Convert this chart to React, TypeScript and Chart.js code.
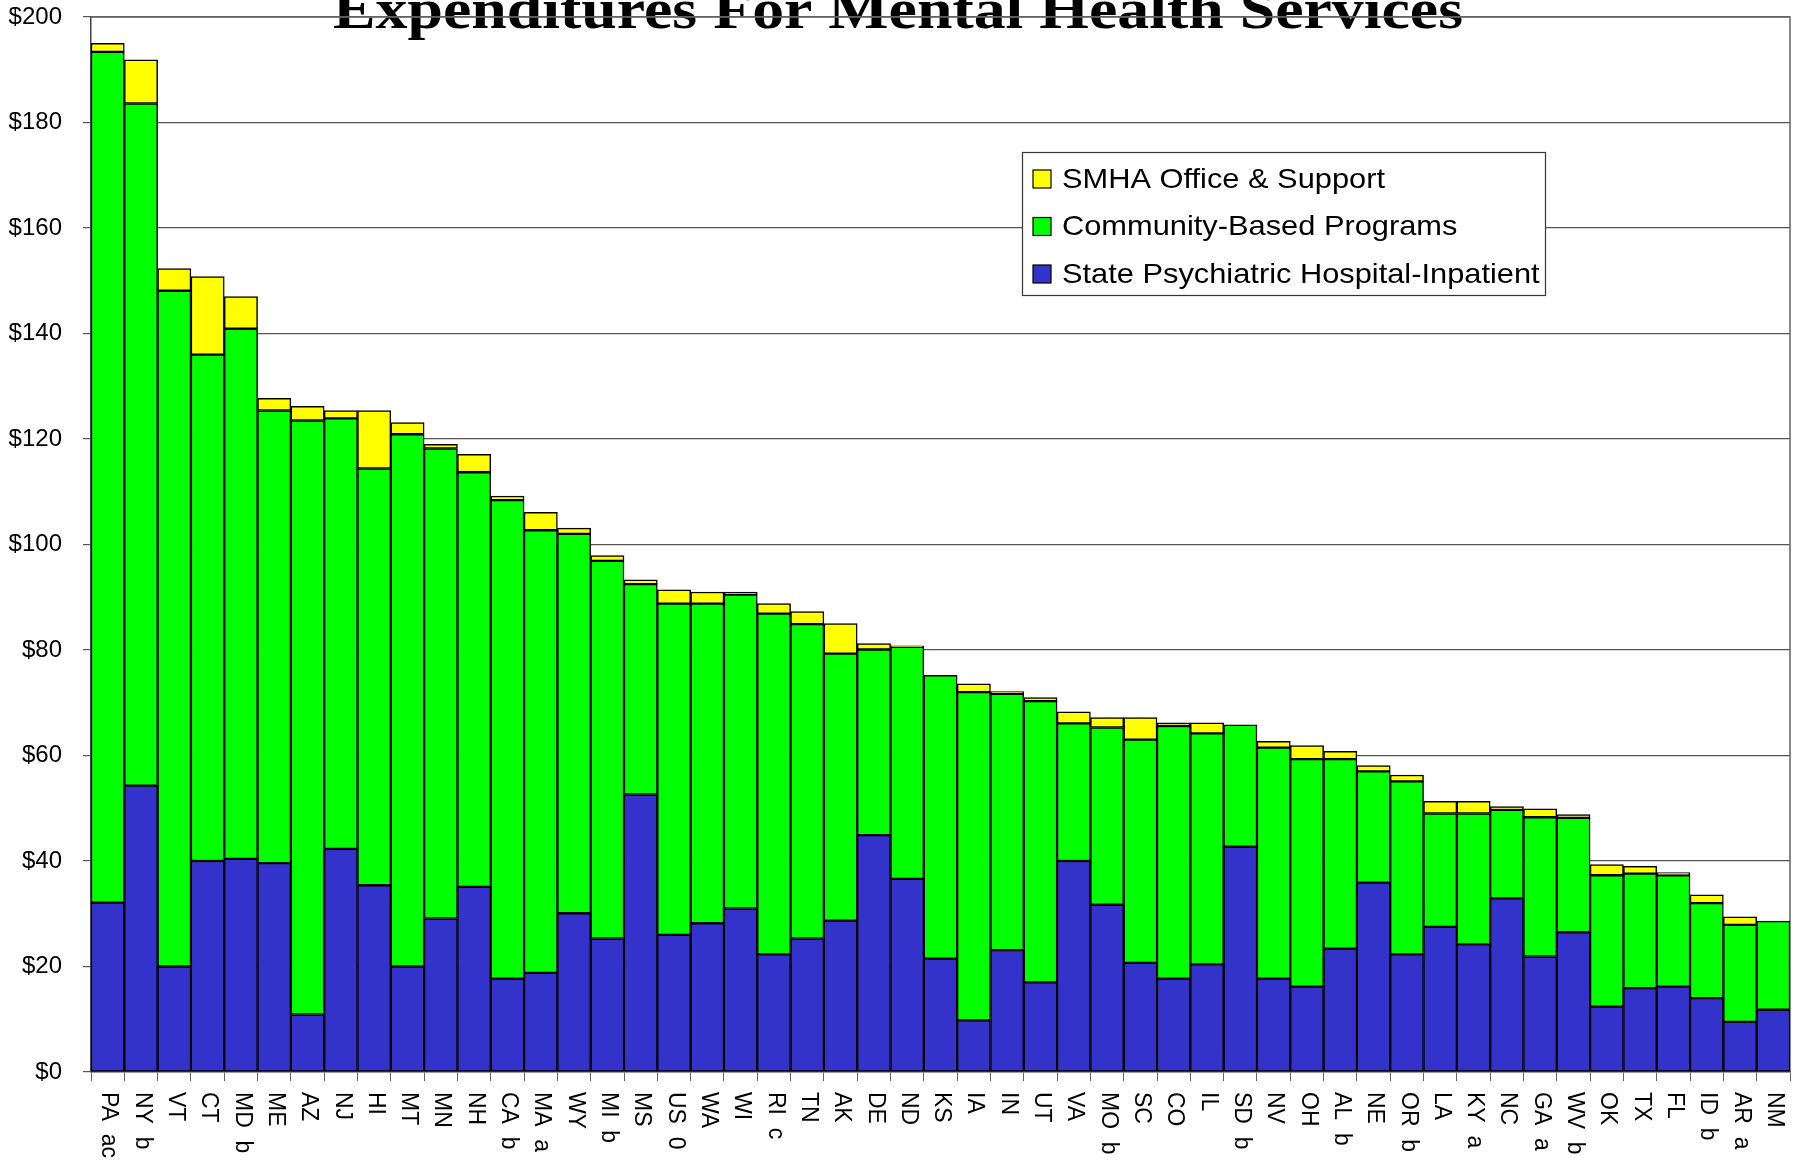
import React, { useEffect, useRef } from 'react';
import { Chart, registerables } from 'chart.js';

Chart.register(...registerables);

const titleText = 'Expenditures For Mental Health Services';

const categories = [
  'PA ac', 'NY b', 'VT', 'CT', 'MD b', 'ME', 'AZ', 'NJ', 'HI', 'MT', 'MN', 'NH', 'CA b', 'MA a', 'WY', 'MI b', 'MS',
  'US 0', 'WA', 'WI', 'RI c', 'TN', 'AK', 'DE', 'ND', 'KS', 'IA', 'IN', 'UT', 'VA', 'MO b', 'SC', 'CO', 'IL',
  'SD b', 'NV', 'OH', 'AL b', 'NE', 'OR b', 'LA', 'KY a', 'NC', 'GA a', 'WV b', 'OK', 'TX', 'FL', 'ID b', 'AR a', 'NM',
];

const statePsychiatricHospital = [
  32.1, 54.3, 20.0, 40.0, 40.4, 39.6, 10.9, 42.3, 35.4, 20.0, 29.1, 35.1, 17.7, 18.8, 30.1, 25.3, 52.6,
  26.0, 28.2, 31.0, 22.3, 25.3, 28.7, 44.9, 36.6, 21.5, 9.8, 23.1, 17.0, 40.0, 31.7, 20.7, 17.7, 20.4,
  42.7, 17.7, 16.2, 23.4, 35.9, 22.3, 27.5, 24.2, 32.9, 21.9, 26.5, 12.4, 15.9, 16.2, 14.0, 9.5, 11.8,
];

const communityBasedPrograms = [
  161.3, 129.3, 128.1, 96.0, 100.5, 85.8, 112.6, 81.6, 79.0, 100.9, 89.1, 78.6, 90.7, 83.9, 71.9, 71.6, 39.9,
  62.8, 60.6, 59.5, 64.6, 59.6, 50.6, 35.2, 44.0, 53.7, 62.2, 48.6, 53.3, 26.1, 33.6, 42.3, 47.9, 43.8,
  23.1, 43.8, 43.1, 35.9, 21.1, 32.8, 21.5, 24.8, 16.8, 26.4, 21.7, 24.9, 21.7, 21.1, 18.0, 18.4, 16.8,
];

const smhaOfficeSupport = [
  1.6, 8.3, 4.2, 14.8, 6.1, 2.3, 2.7, 1.5, 11.0, 2.2, 0.8, 3.4, 0.8, 3.4, 1.1, 1.0, 0.8,
  2.6, 2.2, 0.5, 1.9, 2.4, 5.7, 1.1, 0.2, 0.0, 1.6, 0.4, 0.7, 2.2, 1.9, 4.2, 0.6, 2.0,
  0.0, 1.2, 2.6, 1.5, 1.1, 1.2, 2.3, 2.3, 0.6, 1.6, 0.6, 2.0, 1.4, 0.5, 1.6, 1.5, 0.0,
];

const yAxisMin = 0;
const yAxisMax = 200;
const yAxisStep = 20;

const seriesNames = ['SMHA Office & Support', 'Community-Based Programs', 'State Psychiatric Hospital-Inpatient'];
const seriesColors = ['#FFFF00', '#00FF00', '#3333CC'];

const SANS = '"Liberation Sans", Arial, sans-serif';
const SERIF = '"Liberation Serif", "Times New Roman", serif';

const backgroundTitlePlugin = {
  id: 'backgroundTitle',
  beforeDraw(chart: any) {
    const ctx = chart.ctx;
    ctx.save();
    ctx.fillStyle = '#ffffff';
    ctx.fillRect(0, 0, chart.width, chart.height);
    ctx.fillStyle = '#000000';
    ctx.font = `bold 56px ${SERIF}`;
    ctx.textAlign = 'center';
    ctx.textBaseline = 'alphabetic';
    ctx.translate(898, 28);
    ctx.scale(1.14, 1);
    ctx.fillText(titleText, 0, 0);
    ctx.restore();
  },
};

const framePlugin = {
  id: 'frame',
  beforeDatasetsDraw(chart: any) {
    const { ctx, chartArea } = chart;
    ctx.save();
    ctx.strokeStyle = '#666666';
    ctx.lineWidth = 1.5;
    ctx.beginPath();
    ctx.moveTo(chartArea.left, chartArea.top);
    ctx.lineTo(chartArea.right, chartArea.top);
    ctx.lineTo(chartArea.right, chartArea.bottom);
    ctx.stroke();
    ctx.restore();
  },
};

const xLabelsPlugin = {
  id: 'xLabels',
  afterDraw(chart: any) {
    const { ctx, scales } = chart;
    const xs = scales.x;
    ctx.save();
    ctx.fillStyle = '#000000';
    ctx.font = `23px ${SANS}`;
    ctx.textAlign = 'left';
    ctx.textBaseline = 'middle';
    categories.forEach((label, i) => {
      const x = xs.getPixelForValue(i);
      ctx.save();
      ctx.translate(x + 1, chart.chartArea.bottom + 20);
      ctx.rotate(Math.PI / 2);
      ctx.fillText(label.replace(' ', '  '), 0, 0);
      ctx.restore();
    });
    ctx.restore();
  },
};

const legendPlugin = {
  id: 'customLegend',
  afterDraw(chart: any) {
    const ctx = chart.ctx;
    const left = 1022;
    const top = 152;
    const width = 523;
    const height = 143;
    ctx.save();
    ctx.fillStyle = '#ffffff';
    ctx.fillRect(left, top, width, height);
    ctx.strokeStyle = '#333333';
    ctx.lineWidth = 1.2;
    ctx.strokeRect(left + 0.5, top + 0.5, width, height);
    seriesNames.forEach((name, i) => {
      const cy = top + 27 + i * 47.5;
      ctx.fillStyle = seriesColors[i];
      ctx.fillRect(1033, cy - 9, 18, 18);
      ctx.strokeStyle = '#000000';
      ctx.lineWidth = 1.2;
      ctx.strokeRect(1033, cy - 9, 18, 18);
      ctx.fillStyle = '#000000';
      ctx.font = `28px ${SANS}`;
      ctx.textAlign = 'left';
      ctx.textBaseline = 'middle';
      ctx.save();
      ctx.translate(1062, cy + 1);
      ctx.scale(1.1, 1);
      ctx.fillText(name, 0, 0);
      ctx.restore();
    });
    ctx.restore();
  },
};

export default function App() {
  const canvasRef = useRef<HTMLCanvasElement | null>(null);

  useEffect(() => {
    if (!canvasRef.current) return;
    const barCommon = {
      borderColor: '#000000',
      borderWidth: 1.5,
      borderSkipped: false as const,
      barPercentage: 1.0,
      categoryPercentage: 1.0,
    };
    const chart = new Chart(canvasRef.current, {
      type: 'bar',
      data: {
        labels: categories,
        datasets: [
          { label: seriesNames[2], data: statePsychiatricHospital, backgroundColor: seriesColors[2], ...barCommon },
          { label: seriesNames[1], data: communityBasedPrograms, backgroundColor: seriesColors[1], ...barCommon },
          { label: seriesNames[0], data: smhaOfficeSupport, backgroundColor: seriesColors[0], ...barCommon },
        ],
      },
      options: {
        responsive: false,
        animation: false,
        devicePixelRatio: 1,
        events: [],
        layout: { padding: { top: 17, right: 6, left: 0, bottom: 0 } },
        plugins: {
          legend: { display: false },
          title: { display: false },
          tooltip: { enabled: false },
        },
        scales: {
          x: {
            stacked: true,
            offset: true,
            afterFit: (scale: any) => {
              scale.height = 90;
              scale.paddingLeft = 0;
              scale.paddingRight = 0;
            },
            grid: {
              display: true,
              offset: true,
              drawOnChartArea: false,
              drawTicks: true,
              tickLength: 9,
              color: '#666666',
              lineWidth: 1,
            },
            border: { display: true, color: '#666666', width: 1.5 },
            ticks: { display: false },
          },
          y: {
            stacked: true,
            min: yAxisMin,
            max: yAxisMax,
            afterFit: (scale: any) => {
              scale.width = 91;
              scale.paddingTop = 0;
              scale.paddingBottom = 0;
            },
            ticks: {
              stepSize: yAxisStep,
              color: '#000000',
              font: { family: SANS, size: 24 },
              padding: 21,
              callback: (v: any) => '$' + v,
            },
            grid: {
              color: '#555555',
              lineWidth: 1.2,
              tickLength: 8,
              drawTicks: true,
            },
            border: { display: true, color: '#444444', width: 1.5 },
          },
        },
      },
      plugins: [backgroundTitlePlugin, framePlugin, xLabelsPlugin, legendPlugin],
    });
    return () => chart.destroy();
  }, []);

  return (
    <div style={{ position: 'absolute', left: 0, top: 0, width: 1796, height: 1162, background: '#fff' }}>
      <canvas ref={canvasRef} width={1796} height={1162} style={{ display: 'block', width: 1796, height: 1162 }} />
    </div>
  );
}
